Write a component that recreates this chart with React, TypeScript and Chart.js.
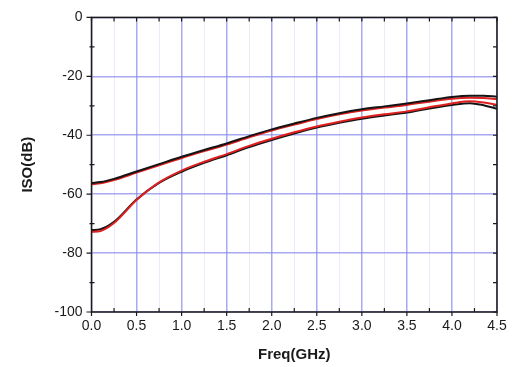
import React, { useEffect, useRef } from "react";
import { Chart, registerables } from "chart.js";

Chart.register(...registerables);

const freqs = [0, 0.1, 0.25, 0.5, 0.75, 1.0, 1.25, 1.5, 1.75, 2.0, 2.25, 2.5, 2.75, 3.0, 3.25, 3.5, 3.75, 4.0, 4.2, 4.35, 4.5];

const upperBlack = [-56.2, -55.9, -54.8, -52.3, -49.8, -47.3, -45.0, -42.8, -40.3, -38.0, -36.0, -34.1, -32.5, -31.2, -30.2, -29.2, -28.1, -27.0, -26.6, -26.6, -26.9];
const upperRed = [-56.6, -56.3, -55.2, -52.7, -50.2, -47.7, -45.4, -43.2, -40.7, -38.4, -36.4, -34.5, -32.9, -31.6, -30.6, -29.7, -28.6, -27.6, -27.3, -27.4, -27.7];
const lowerRed = [-72.8, -72.5, -69.8, -62.0, -56.0, -52.0, -49.0, -46.4, -43.6, -41.2, -39.0, -37.0, -35.4, -34.0, -32.9, -31.9, -30.5, -29.2, -28.5, -28.9, -29.7];
const lowerBlack = [-72.2, -71.9, -69.4, -61.8, -56.2, -52.4, -49.4, -46.8, -44.0, -41.6, -39.4, -37.4, -35.8, -34.4, -33.3, -32.3, -30.9, -29.7, -29.1, -29.8, -31.0];

const xTicks = [0, 0.5, 1.0, 1.5, 2.0, 2.5, 3.0, 3.5, 4.0, 4.5];
const yTicks = [0, -20, -40, -60, -80, -100];

const RED = "rgb(222,32,32)";
const BLACK = "rgb(20,20,20)";
const GRID_MAJOR = "rgba(140,140,238,0.75)";
const GRID_MINOR = "rgba(222,224,247,0.6)";
const FONT = '"Liberation Sans", Arial, sans-serif';

const toPts = (ys: number[]) => freqs.map((x, i) => ({ x, y: ys[i] }));

const framePlugin = {
  id: "frame",
  afterDraw(chart: any) {
    const ctx = chart.ctx;
    const { left, right, top, bottom } = chart.chartArea;
    const xs = chart.scales.x;
    const ys = chart.scales.y;
    ctx.save();
    ctx.strokeStyle = "#1a1a1a";
    ctx.lineWidth = 1.5;
    ctx.strokeRect(left, top, right - left, bottom - top);
    ctx.lineWidth = 1.2;
    ctx.beginPath();
    for (let k = 0; k <= 18; k++) {
      const v = k * 0.25;
      const px = xs.getPixelForValue(v);
      const major = k % 2 === 0;
      if (major) {
        ctx.moveTo(px, bottom);
        ctx.lineTo(px, bottom + 4);
      } else {
        ctx.moveTo(px, bottom);
        ctx.lineTo(px, bottom - 4);
      }
      ctx.moveTo(px, top);
      ctx.lineTo(px, top + 4);
    }
    for (let k = 0; k <= 10; k++) {
      const v = -k * 10;
      const py = ys.getPixelForValue(v);
      const major = k % 2 === 0;
      if (major) {
        ctx.moveTo(left - 5, py);
        ctx.lineTo(left, py);
      } else {
        ctx.moveTo(left - 2, py);
        ctx.lineTo(left + 3, py);
      }
      ctx.moveTo(right, py);
      ctx.lineTo(right - 4, py);
    }
    ctx.stroke();

    ctx.fillStyle = "#1a1a1a";
    ctx.font = "bold 15px " + FONT;
    ctx.textAlign = "center";
    ctx.textBaseline = "middle";
    ctx.fillText("Freq(GHz)", (left + right) / 2, 355);
    ctx.translate(28, (top + bottom) / 2);
    ctx.rotate(-Math.PI / 2);
    ctx.fillText("ISO(dB)", 0, 0);
    ctx.restore();
  },
};

export default function App() {
  const ref = useRef<HTMLCanvasElement | null>(null);
  useEffect(() => {
    if (!ref.current) return;
    const isMajorX = (v: number) => xTicks.some((t) => Math.abs(t - v) < 1e-6);
    const line = (ys: number[], color: string) => ({
      data: toPts(ys),
      borderColor: color,
      borderWidth: 2,
      pointRadius: 0,
      cubicInterpolationMode: "monotone",
      fill: false,
    });
    const chart = new Chart(ref.current, {
      type: "line",
      data: {
        datasets: [
          line(upperBlack, BLACK),
          line(upperRed, RED),
          line(lowerRed, RED),
          line(lowerBlack, BLACK),
        ],
      },
      options: {
        responsive: false,
        animation: false,
        devicePixelRatio: 1,
        layout: { padding: { top: 14, right: 18, left: 0, bottom: 0 } },
        plugins: { legend: { display: false }, tooltip: { enabled: false } },
        scales: {
          x: {
            type: "linear",
            min: 0,
            max: 4.5,
            afterFit: (s: any) => {
              s.height = 55;
            },
            afterBuildTicks: (s: any) => {
              const arr = [];
              for (let k = 0; k <= 18; k++) arr.push({ value: k * 0.25 });
              s.ticks = arr;
            },
            ticks: {
              autoSkip: false,
              maxRotation: 0,
              padding: 6,
              color: "#1a1a1a",
              font: { family: FONT, size: 14 },
              callback: (v: any) => (isMajorX(Number(v)) ? Number(v).toFixed(1) : ""),
            },
            grid: {
              drawTicks: false,
              lineWidth: (c: any) => (c.tick && isMajorX(c.tick.value) ? 1.5 : 1),
              color: (c: any) => (c.tick && isMajorX(c.tick.value) ? GRID_MAJOR : GRID_MINOR),
            },
            border: { display: false },
          },
          y: {
            type: "linear",
            min: -100,
            max: 0,
            afterFit: (s: any) => {
              s.width = 91.5;
            },
            afterBuildTicks: (s: any) => {
              s.ticks = yTicks.map((v) => ({ value: v }));
            },
            ticks: {
              padding: 9,
              color: "#1a1a1a",
              font: { family: FONT, size: 14 },
              callback: (v: any) => String(v),
            },
            grid: { drawTicks: false, lineWidth: 1.5, color: GRID_MAJOR },
            border: { display: false },
          },
        },
      },
      plugins: [framePlugin],
    } as any);
    return () => chart.destroy();
  }, []);
  return (
    <div style={{ position: "absolute", left: 0, top: 0, width: 515, height: 367, background: "#fff" }}>
      <canvas ref={ref} width={515} height={367} style={{ display: "block" }} />
    </div>
  );
}
